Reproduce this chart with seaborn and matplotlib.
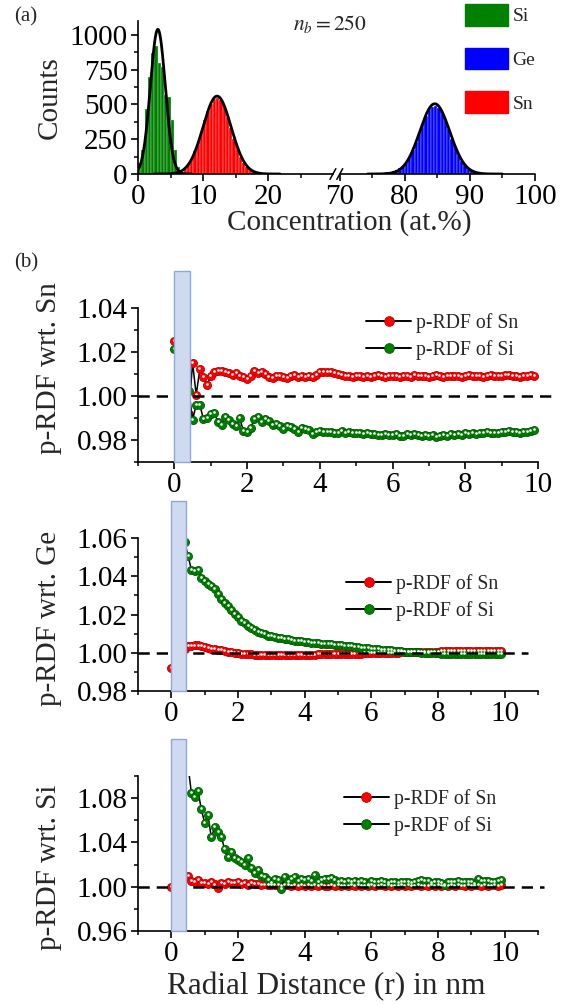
import numpy as np
import pandas as pd
import matplotlib
matplotlib.use("Agg")
import matplotlib.pyplot as plt
import matplotlib.transforms as mtransforms
from matplotlib.patches import Patch, Rectangle
from matplotlib.lines import Line2D
import seaborn as sns

# ---------------- (a) concentration histograms ----------------
BIN_WIDTH = 0.5
SI_RANGE = (0.0, 6.5)
SI_COUNTS = [77, 173, 470, 700, 868, 920, 800, 772, 570, 556, 388, 173, 53]
SN_RANGE = (7.0, 19.5)
SN_COUNTS = [35, 70, 110, 165, 230, 300, 385, 455, 500, 540, 545, 530, 485,
             410, 330, 255, 185, 125, 80, 50, 30, 18, 12, 8, 5]
GE_RANGE = (76.0, 92.5)
GE_COUNTS = [5, 8, 12, 15, 20, 28, 40, 58, 85, 120, 170, 230, 295, 360, 420,
             465, 485, 490, 475, 440, 385, 320, 255, 195, 140, 95, 62, 38, 22,
             13, 7, 4, 2]
# Gaussian fits: (centre, sigma, amplitude)
SI_FIT = (3.05, 1.15, 1040)
SN_FIT = (12.15, 2.15, 560)
GE_FIT = (84.6, 2.3, 505)
CONC_TICKS = [0, 10, 20, 70, 80, 90, 100]
CONC_MINOR = [5, 15, 25, 75, 85, 95]
COUNT_TICKS = [0, 250, 500, 750, 1000]
N_BINS_LABEL = r"$n_b = 250$"

# ---------------- (b) partial radial distribution functions ----------------
R = np.round(np.arange(0.0, 10.0, 0.1), 1)

SN_WRT_SN = [1.0252, 1.012, 0.996, 1.006, 0.992, 1.0152, 1.0005, 1.0122, 1.0085, 1.0050,
             1.0090, 1.0110, 1.0115, 1.0112, 1.0110, 1.0105, 1.0095, 1.0105, 1.0092, 1.0088,
             1.0078, 1.0092, 1.0115, 1.0105, 1.0108, 1.0100, 1.0088, 1.0080, 1.0090, 1.0092,
             1.0086, 1.0080, 1.0090, 1.0094, 1.0088, 1.0090, 1.0087, 1.0092, 1.0085, 1.0095,
             1.0108, 1.0110, 1.0110, 1.0108, 1.0104, 1.0098, 1.0094, 1.0090, 1.0092, 1.0088,
             1.0093, 1.0090, 1.0088, 1.0091, 1.0086, 1.0092, 1.0096, 1.0090, 1.0088, 1.0092,
             1.0089, 1.0090, 1.0088, 1.0093, 1.0091, 1.0087, 1.0094, 1.0090, 1.0089, 1.0092,
             1.0088, 1.0091, 1.0095, 1.0090, 1.0088, 1.0092, 1.0089, 1.0091, 1.0093, 1.0088,
             1.0090, 1.0094, 1.0091, 1.0089, 1.0092, 1.0088, 1.0091, 1.0095, 1.0090, 1.0092,
             1.0089, 1.0097, 1.0094, 1.0090, 1.0092, 1.0088, 1.0093, 1.0091, 1.0094, 1.0090]
SI_WRT_SN = [1.0212, 1.004, 0.995, 0.999, 1.0025, 0.9890, 0.9960, 0.9960, 0.9895, 0.9900,
             0.9918, 0.9925, 0.9880, 0.9870, 0.9905, 0.9890, 0.9875, 0.9862, 0.9898, 0.9840,
             0.9838, 0.9855, 0.9895, 0.9905, 0.9880, 0.9895, 0.9885, 0.9870, 0.9875, 0.9862,
             0.9850, 0.9862, 0.9858, 0.9852, 0.9838, 0.9855, 0.9852, 0.9846, 0.9828, 0.9836,
             0.9842, 0.9836, 0.9838, 0.9835, 0.9832, 0.9834, 0.9840, 0.9830, 0.9836, 0.9833,
             0.9830, 0.9834, 0.9828, 0.9830, 0.9826, 0.9828, 0.9825, 0.9824, 0.9826, 0.9822,
             0.9823, 0.9826, 0.9820, 0.9818, 0.9828, 0.9822, 0.9826, 0.9823, 0.9820, 0.9824,
             0.9818, 0.9822, 0.9814, 0.9820, 0.9824, 0.9818, 0.9827, 0.9825, 0.9828, 0.9825,
             0.9830, 0.9828, 0.9832, 0.9828, 0.9833, 0.9830, 0.9836, 0.9832, 0.9830, 0.9834,
             0.9838, 0.9836, 0.9840, 0.9835, 0.9838, 0.9834, 0.9836, 0.9838, 0.9840, 0.9845]

SN_WRT_GE = [0.9918, 0.9960, 0.9980, 1.0000, 1.0020, 1.0035, 1.0036, 1.0038, 1.0038, 1.0035,
             1.0030, 1.0026, 1.0022, 1.0018, 1.0015, 1.0012, 1.0008, 1.0006, 1.0003, 1.0000,
             0.9998, 0.9996, 0.9994, 0.9992, 0.9991, 0.9989, 0.9988, 0.9988, 0.9987, 0.9987,
             0.9986, 0.9986, 0.9986, 0.9986, 0.9986, 0.9987, 0.9987, 0.9988, 0.9988, 0.9988,
             0.9989, 0.9989, 0.9990, 0.9990, 0.9991, 0.9991, 0.9992, 0.9992, 0.9993, 0.9993,
             0.9994, 0.9994, 0.9995, 0.9995, 0.9995, 0.9996, 0.9996, 0.9996, 0.9997, 0.9997,
             0.9998, 0.9998, 0.9998, 0.9999, 0.9999, 1.0000, 1.0000, 1.0001, 1.0001, 1.0002,
             1.0002, 1.0003, 1.0003, 1.0004, 1.0004, 1.0005, 1.0005, 1.0005, 1.0006, 1.0006,
             1.0006, 1.0007, 1.0007, 1.0007, 1.0007, 1.0008, 1.0008, 1.0008, 1.0008, 1.0009,
             1.0009, 1.0009, 1.0009, 1.0009, 1.0010, 1.0010, 1.0010, 1.0010, 1.0010, 1.0010]
SI_WRT_GE = [1.0750, 1.0700, 1.0660, 1.0620, 1.0580, 1.0508, 1.0435, 1.0430, 1.0434, 1.0390,
             1.0374, 1.0362, 1.0348, 1.0332, 1.0308, 1.0282, 1.0262, 1.0242, 1.0225, 1.0205,
             1.0186, 1.0168, 1.0154, 1.0141, 1.0128, 1.0118, 1.0109, 1.0102, 1.0096, 1.0090,
             1.0086, 1.0082, 1.0078, 1.0075, 1.0072, 1.0070, 1.0067, 1.0064, 1.0062, 1.0059,
             1.0057, 1.0055, 1.0053, 1.0051, 1.0050, 1.0048, 1.0046, 1.0045, 1.0044, 1.0043,
             1.0041, 1.0039, 1.0037, 1.0035, 1.0033, 1.0031, 1.0029, 1.0027, 1.0025, 1.0023,
             1.0021, 1.0020, 1.0018, 1.0016, 1.0015, 1.0013, 1.0012, 1.0010, 1.0009, 1.0007,
             1.0006, 1.0005, 1.0004, 1.0003, 1.0002, 1.0001, 1.0000, 0.9999, 0.9998, 0.9997,
             0.9997, 0.9996, 0.9996, 0.9995, 0.9995, 0.9995, 0.9994, 0.9994, 0.9994, 0.9994,
             0.9994, 0.9994, 0.9994, 0.9994, 0.9994, 0.9994, 0.9994, 0.9994, 0.9994, 0.9994]

SN_WRT_SI = [1.0000, 1.0040, 1.0060, 1.0080, 1.0090, 1.0100, 1.0055, 1.0040, 1.0062, 1.0035,
             1.0030, 1.0025, 1.0040, 1.0020, 0.9985, 1.0030, 1.0022, 1.0045, 1.0038, 1.0032,
             1.0045, 1.0028, 1.0035, 1.0015, 1.0030, 1.0022, 1.0025, 1.0018, 1.0020, 1.0015,
             1.0018, 1.0012, 1.0016, 1.0010, 1.0014, 1.0012, 1.0008, 1.0015, 1.0010, 1.0012,
             1.0008, 1.0014, 1.0010, 1.0012, 1.0009, 1.0013, 1.0010, 1.0008, 1.0012, 1.0010,
             1.0014, 1.0009, 1.0011, 1.0008, 1.0012, 1.0010, 1.0013, 1.0009, 1.0011, 1.0010,
             1.0012, 1.0008, 1.0011, 1.0013, 1.0009, 1.0012, 1.0010, 1.0011, 1.0008, 1.0012,
             1.0010, 1.0013, 1.0009, 1.0011, 1.0012, 1.0008, 1.0011, 1.0010, 1.0013, 1.0009,
             1.0012, 1.0010, 1.0011, 1.0009, 1.0012, 1.0010, 1.0013, 1.0011, 1.0009, 1.0012,
             1.0010, 1.0011, 1.0013, 1.0009, 1.0012, 1.0010, 1.0011, 1.0012, 1.0010, 1.0012]
SI_WRT_SI = [1.1300, 1.1300, 1.1250, 1.1200, 1.1150, 1.1100, 1.0849, 1.0812, 1.0867, 1.0698,
             1.0578, 1.0647, 1.0445, 1.0536, 1.0497, 1.0451, 1.0337, 1.0265, 1.0316, 1.0256,
             1.0240, 1.0220, 1.0196, 1.0256, 1.0166, 1.0126, 1.0150, 1.0100, 1.0084, 1.0060,
             1.0030, 1.0066, 1.0060, 0.9979, 1.0090, 1.0045, 1.0070, 1.0084, 1.0050, 1.0072,
             1.0060, 1.0068, 1.0055, 1.0105, 1.0040, 1.0060, 1.0070, 1.0072, 1.0075, 1.0065,
             1.0045, 1.0050, 1.0040, 1.0048, 1.0042, 1.0050, 1.0045, 1.0048, 1.0042, 1.0020,
             1.0050, 1.0045, 1.0040, 1.0048, 1.0042, 1.0038, 1.0045, 1.0040, 1.0030, 1.0045,
             1.0040, 1.0042, 1.0038, 1.0040, 1.0055, 1.0062, 1.0050, 1.0055, 1.0030, 1.0042,
             1.0040, 1.0030, 1.0015, 1.0040, 1.0045, 1.0040, 1.0048, 1.0042, 1.0045, 1.0040,
             1.0040, 1.0025, 1.0070, 1.0050, 1.0048, 1.0050, 1.0042, 1.0045, 1.0048, 1.0060]

RDF_PANELS = [
    dict(host="Sn", sn=SN_WRT_SN, si=SI_WRT_SN, xlim=(-1, 10), ylim=(0.97, 1.04),
         major=[0.98, 1.00, 1.02, 1.04], minor=[0.97, 0.99, 1.01, 1.03]),
    dict(host="Ge", sn=SN_WRT_GE, si=SI_WRT_GE, xlim=(-1, 11), ylim=(0.98, 1.06),
         major=[0.98, 1.00, 1.02, 1.04, 1.06], minor=[0.99, 1.01, 1.03, 1.05]),
    dict(host="Si", sn=SN_WRT_SI, si=SI_WRT_SI, xlim=(-1, 11), ylim=(0.96, 1.10),
         major=[0.96, 1.00, 1.04, 1.08], minor=[0.98, 1.02, 1.06, 1.10]),
]
R_TICKS = [0, 2, 4, 6, 8, 10]

# ---------------- styling ----------------
W, H = 568, 1005
SI_COLOR, GE_COLOR, SN_COLOR = "#008000", "#0000ff", "#ff0000"
SHELL_FC, SHELL_EC = "#cfd9f0", "#8ea8d8"

sns.set_theme(style="ticks")
plt.rcParams["font.family"] = ["Liberation Serif", "DejaVu Serif"]
plt.rcParams.update({
    "mathtext.fontset": "stix",
    "axes.linewidth": 1.2,
    "axes.edgecolor": "black",
    "xtick.color": "black", "ytick.color": "black",
    "xtick.direction": "out", "ytick.direction": "out",
    "xtick.major.size": 5, "ytick.major.size": 5,
    "xtick.minor.size": 3, "ytick.minor.size": 3,
    "xtick.major.width": 1.2, "ytick.major.width": 1.2,
    "xtick.minor.width": 1.1, "ytick.minor.width": 1.1,
    "xtick.labelsize": 21, "ytick.labelsize": 21,
    "xtick.major.pad": 2.5, "ytick.major.pad": 2.5,
    "axes.labelsize": 21,
})

fig = plt.figure(figsize=(W / 100, H / 100), dpi=100)


def px_axes(left, top, right, bottom):
    return fig.add_axes([left / W, 1 - bottom / H, (right - left) / W, (bottom - top) / H])


# ---------------- panel (a) ----------------
def brk(x):
    """Collapse the empty 30-70 at.% stretch of the concentration axis."""
    x = np.asarray(x, dtype=float)
    return np.where(x <= 30, x, x - 39.0)


axa = px_axes(138, 21, 535, 174)
for rng, counts, color in [(SI_RANGE, SI_COUNTS, SI_COLOR),
                           (SN_RANGE, SN_COUNTS, SN_COLOR),
                           (GE_RANGE, GE_COUNTS, GE_COLOR)]:
    lo = float(brk(rng[0]))
    centres = lo + BIN_WIDTH * (np.arange(len(counts)) + 0.5)
    hist_df = pd.DataFrame({"conc": centres, "count": np.asarray(counts, float)})
    sns.histplot(data=hist_df, x="conc", weights="count", binwidth=BIN_WIDTH,
                 binrange=(lo, lo + BIN_WIDTH * len(counts)), ax=axa,
                 color=color, edgecolor="#ffffffb0", linewidth=0.3, alpha=1.0,
                 stat="count", element="bars")

for (mu, sig, amp) in [SI_FIT, SN_FIT, GE_FIT]:
    xs = np.linspace(max(mu - 4.5 * sig, 0), mu + 4.5 * sig, 300)
    ys = amp * np.exp(-0.5 * ((xs - mu) / sig) ** 2)
    axa.plot(brk(xs), ys, color="black", lw=2.0, zorder=3)

axa.set_xlim(0, float(brk(100)))
axa.set_ylim(0, 1100)
axa.set_xticks(brk(CONC_TICKS))
axa.set_xticklabels([str(t) for t in CONC_TICKS])
axa.set_xticks(brk(CONC_MINOR), minor=True)
axa.set_yticks(COUNT_TICKS)
axa.set_yticks([125, 375, 625, 875], minor=True)
axa.set_xlabel("Concentration (at.%)", va="center")
axa.xaxis.set_label_coords(0.533, -0.32)
axa.set_ylabel("Counts", va="center")
axa.yaxis.set_label_coords(-0.222, 0.5)
axa.spines[["top", "right"]].set_visible(False)

# broken bottom axis with a double slash
b_lo, b_hi = float(brk(29.95)), float(brk(70))
axa.spines["bottom"].set_bounds(0, b_lo)
xtrans = axa.get_xaxis_transform()
axa.plot([b_hi, float(brk(100))], [0, 0], color="black", lw=1.2,
         transform=xtrans, clip_on=False, zorder=4)
for xb in (b_lo, b_hi):
    axa.plot([xb - 0.45, xb + 0.45], [-0.035, 0.035], color="black", lw=1.1,
             transform=xtrans, clip_on=False, zorder=4)

fig.text(26 / W, 1 - 17 / H, "(a)", fontsize=15, ha="center", va="center")
fig.text(293 / W, 1 - 24 / H, N_BINS_LABEL, fontsize=15.5, ha="left", va="center")
fig.legend(handles=[Patch(fc=SI_COLOR, ec=SI_COLOR),
                    Patch(fc=GE_COLOR, ec=GE_COLOR),
                    Patch(fc=SN_COLOR, ec=SN_COLOR)],
           labels=["Si", "Ge", "Sn"], loc="upper left",
           bbox_to_anchor=(465 / W, 1 - 4 / H), frameon=False, fontsize=14,
           handlelength=2.2, handleheight=1.35, handletextpad=0.25,
           labelspacing=1.12, borderpad=0, borderaxespad=0)

# ---------------- panel (b) ----------------
b_boxes = [(308, 462), (538, 691), (776, 931)]
shell_right = [0.42, 0.45, 0.45]
dash_xmax = [1.04, 0.975, 1.015]
legend_anchor = [(0.57, 0.965), (0.52, 0.765), (0.514, 0.915)]
ylabel_y = [0.607, 0.474, 0.41]

series_style = [("sn", SN_COLOR, "#c00000", "p-RDF of Sn"),
                ("si", SI_COLOR, "#005a00", "p-RDF of Si")]

for i, (panel, (top, bottom)) in enumerate(zip(RDF_PANELS, b_boxes)):
    ax = px_axes(138, top, 538, bottom)
    glint = mtransforms.offset_copy(ax.transData, fig=fig, x=-0.3, y=0.7, units="points")
    for key, face, edge, label in series_style:
        vals = panel[key]
        rdf_df = pd.DataFrame({"r": R, "g": vals})
        sns.lineplot(data=rdf_df, x="r", y="g", ax=ax, sort=False, estimator=None,
                     color="black", lw=1.1, marker="o", ms=5.8,
                     mfc=face, mec=edge, mew=0.6, zorder=2)
        ax.plot(R, vals, ls="none", marker="o", ms=1.9, mfc="white", mec="none",
                transform=glint, zorder=2.5)

    ax.axhline(1.0, xmin=0, xmax=dash_xmax[i], color="black", lw=1.8,
               ls=(0, (4.5, 2.8)), clip_on=False, zorder=4)
    shell = Rectangle((0, 0), shell_right[i], 1.24,
                      transform=mtransforms.blended_transform_factory(ax.transData, ax.transAxes),
                      fc=SHELL_FC, ec=SHELL_EC, lw=1.0, clip_on=False, zorder=5)
    ax.add_patch(shell)

    ax.set_xlim(*panel["xlim"])
    ax.set_ylim(*panel["ylim"])
    ax.set_xticks(R_TICKS)
    ax.set_xticks(np.arange(panel["xlim"][0], panel["xlim"][1] + 0.5, 2), minor=True)
    ax.set_yticks(panel["major"])
    ax.set_yticks(panel["minor"], minor=True)
    ax.yaxis.set_major_formatter(matplotlib.ticker.FormatStrFormatter("%.2f"))
    ax.spines[["top", "right"]].set_visible(False)
    ax.set_ylabel(f"p-RDF wrt. {panel['host']}", va="center")
    ax.yaxis.set_label_coords(-0.2225, ylabel_y[i])
    ax.set_xlabel("")

    handles = [Line2D([], [], color="black", lw=1.4, marker="o", ms=7,
                      mfc=face, mec=edge, mew=0.6)
               for _, face, edge, _ in series_style]
    leg = ax.legend(handles, [s[3] for s in series_style], loc="upper left",
                    bbox_to_anchor=legend_anchor[i], frameon=False, fontsize=14.2,
                    handlelength=2.3, handletextpad=0.25, labelspacing=0.35,
                    borderpad=0, borderaxespad=0)
    leg.set_zorder(6)

    if i == 2:
        ax.set_xlabel("Radial Distance (r) in nm", fontsize=22.5, va="center")
        ax.xaxis.set_label_coords(0.47, -0.361)

fig.text(26 / W, 1 - 263 / H, "(b)", fontsize=15, ha="center", va="center")

fig.savefig("out.png", dpi=100)
